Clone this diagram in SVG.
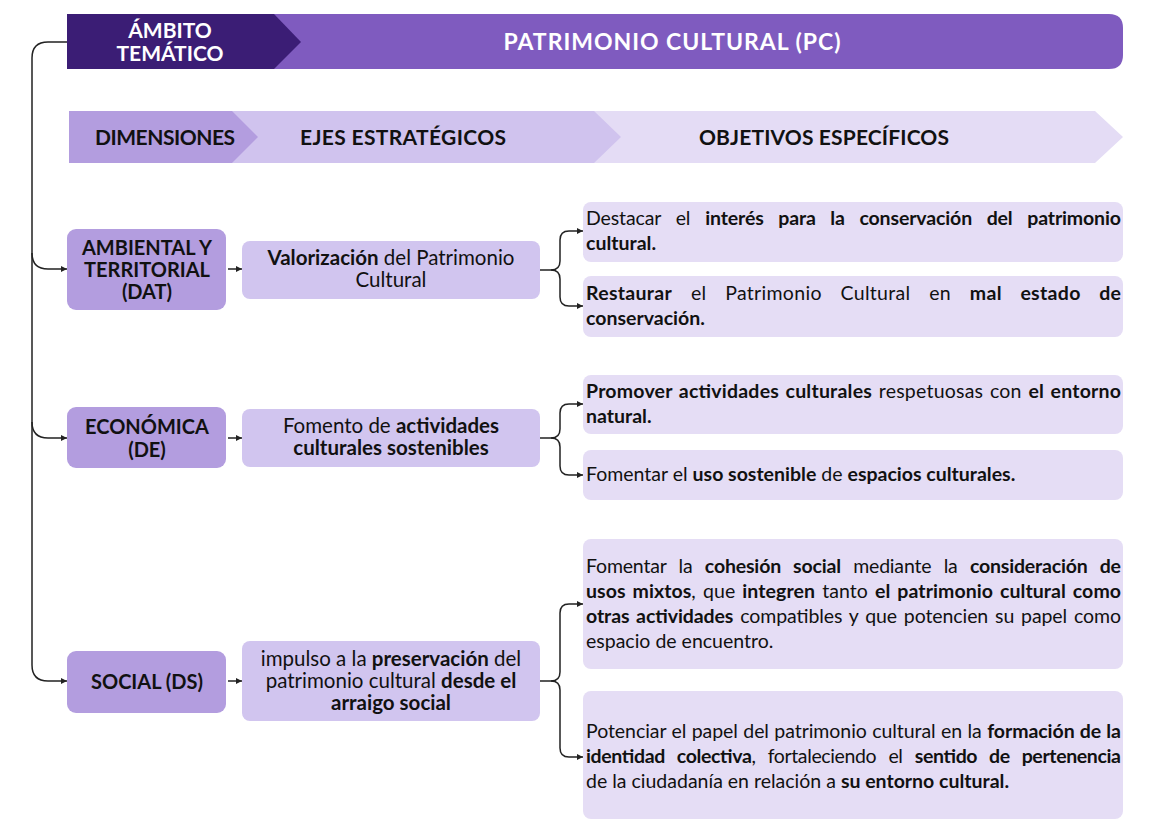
<svg xmlns="http://www.w3.org/2000/svg" width="1151" height="821" viewBox="0 0 1151 821">
<style>
text{font-family:Lato,"Open Sans","Liberation Sans",sans-serif;fill:#111;}
.b{font-weight:700;}
.hd{font-size:21px;font-weight:700;text-anchor:middle;}
.wt{fill:#fff;}
.dim{fill:#b39ddf;}
.eje{fill:#d1c5ef;}
.obj{fill:#e5ddf5;}
.dt{font-size:20px;font-weight:700;text-anchor:middle;}
.et{font-size:20.5px;text-anchor:middle;}
.ot{font-size:19.5px;}
.cn{fill:none;stroke:#222;stroke-width:1.5;}
</style>
<defs>
<marker id="ah" viewBox="0 0 6 6" refX="6" refY="3" markerWidth="6" markerHeight="6" markerUnits="userSpaceOnUse" orient="auto">
<path d="M0,0 L6,3 L0,6 z" fill="#222"/>
</marker>
</defs>

<g id="title">
<path d="M67,14 H1109 Q1123,14 1123,28 V55 Q1123,69 1109,69 H67 Z" fill="#7f5bbf"/>
<polygon points="67,14 274,14 301,42 274,69 67,69" fill="#3b1d75"/>
<text class="hd wt" x="170" y="38" font-size="20">ÁMBITO</text>
<text class="hd wt" x="170" y="61" font-size="20">TEMÁTICO</text>
<text class="wt" x="672" y="50" font-size="23" font-weight="700" text-anchor="middle" textLength="337" lengthAdjust="spacing">PATRIMONIO CULTURAL (PC)</text>
</g>

<g id="header">
<polygon points="69,111 1095,111 1123,137 1095,163 69,163" fill="#e4dcf5"/>
<polygon points="69,111 594,111 621,137 594,163 69,163" fill="#d0c3ee"/>
<polygon points="69,111 232,111 258,137 232,163 69,163" fill="#b39ddf"/>
<text class="hd" x="165" y="145" textLength="140" lengthAdjust="spacing">DIMENSIONES</text>
<text class="hd" x="403" y="145" textLength="206" lengthAdjust="spacing">EJES ESTRATÉGICOS</text>
<text class="hd" x="824" y="145" textLength="250" lengthAdjust="spacing">OBJETIVOS ESPECÍFICOS</text>
</g>

<g id="connectors">
<path class="cn" marker-end="url(#ah)" d="M67,42 H48 Q32,42 32,58 V665 Q32,681 48,681 H67"/>
<path class="cn" marker-end="url(#ah)" d="M32,253 Q32,269 48,269 H67"/>
<path class="cn" marker-end="url(#ah)" d="M32,422 Q32,438 48,438 H67"/>
<path class="cn" marker-end="url(#ah)" d="M228,269 H242"/>
<path class="cn" marker-end="url(#ah)" d="M228,438 H242"/>
<path class="cn" marker-end="url(#ah)" d="M228,681 H242"/>
<path class="cn" marker-end="url(#ah)" d="M540,270 H551 Q560,270 560,261 V240 Q560,231 569,231 H583"/>
<path class="cn" marker-end="url(#ah)" d="M551,270 Q560,270 560,279 V297 Q560,306 569,306 H583"/>
<path class="cn" marker-end="url(#ah)" d="M540,438 H551 Q560,438 560,429 V413 Q560,404 569,404 H583"/>
<path class="cn" marker-end="url(#ah)" d="M551,438 Q560,438 560,447 V466 Q560,475 569,475 H583"/>
<path class="cn" marker-end="url(#ah)" d="M540,681 H551 Q560,681 560,672 V613 Q560,604 569,604 H583"/>
<path class="cn" marker-end="url(#ah)" d="M551,681 Q560,681 560,690 V748 Q560,757 569,757 H583"/>
</g>

<g id="dim-dat">
<rect class="dim" x="67" y="229" width="159" height="81" rx="9"/>
<text class="dt" x="147" y="255">AMBIENTAL Y</text>
<text class="dt" x="147" y="277">TERRITORIAL</text>
<text class="dt" x="147" y="299">(DAT)</text>
</g>
<g id="dim-de">
<rect class="dim" x="67" y="407" width="159" height="61" rx="9"/>
<text class="dt" x="147" y="434">ECONÓMICA</text>
<text class="dt" x="147" y="457">(DE)</text>
</g>
<g id="dim-ds">
<rect class="dim" x="67" y="651" width="159" height="62" rx="9"/>
<text class="dt" x="147" y="689">SOCIAL (DS)</text>
</g>

<g id="eje-dat">
<rect class="eje" x="242" y="241" width="298" height="58" rx="8"/>
<text class="et" x="391" y="265"><tspan class="b">Valorización</tspan> del Patrimonio</text>
<text class="et" x="391" y="287">Cultural</text>
</g>
<g id="eje-de">
<rect class="eje" x="242" y="409" width="298" height="58" rx="8"/>
<text class="et" x="391" y="433">Fomento de <tspan class="b">actividades</tspan></text>
<text class="et" x="391" y="455" font-weight="700">culturales sostenibles</text>
</g>
<g id="eje-ds">
<rect class="eje" x="242" y="641" width="298" height="80" rx="8"/>
<text class="et" x="391" y="666">impulso a la <tspan class="b">preservación</tspan> del</text>
<text class="et" x="391" y="688">patrimonio cultural <tspan class="b">desde el</tspan></text>
<text class="et" x="391" y="710" font-weight="700">arraigo social</text>
</g>

<g id="obj-1">
<rect class="obj" x="583" y="202" width="540" height="60" rx="8"/>
<text class="ot" x="586" y="225" textLength="535" lengthAdjust="spacing" word-spacing="10">Destacar el <tspan class="b">interés para la conservación del patrimonio</tspan></text>
<text class="ot b" x="586" y="250">cultural.</text>
</g>
<g id="obj-2">
<rect class="obj" x="583" y="276" width="540" height="61" rx="8"/>
<text class="ot" x="586" y="300" textLength="535" lengthAdjust="spacing" word-spacing="13.5"><tspan class="b">Restaurar</tspan> el Patrimonio Cultural en <tspan class="b">mal estado de</tspan></text>
<text class="ot b" x="586" y="325">conservación.</text>
</g>
<g id="obj-3">
<rect class="obj" x="583" y="375" width="540" height="59" rx="8"/>
<text class="ot" x="586" y="398" textLength="535" lengthAdjust="spacing" word-spacing="1.5"><tspan class="b">Promover actividades culturales</tspan> respetuosas con <tspan class="b">el entorno</tspan></text>
<text class="ot b" x="586" y="423">natural.</text>
</g>
<g id="obj-4">
<rect class="obj" x="583" y="450" width="540" height="50" rx="8"/>
<text class="ot" x="586" y="481">Fomentar el <tspan class="b">uso sostenible</tspan> de <tspan class="b">espacios culturales.</tspan></text>
</g>
<g id="obj-5">
<rect class="obj" x="583" y="539" width="540" height="130" rx="8"/>
<text class="ot" x="586" y="573" textLength="535" lengthAdjust="spacing" word-spacing="7.5">Fomentar la <tspan class="b">cohesión social</tspan> mediante la <tspan class="b">consideración de</tspan></text>
<text class="ot" x="586" y="598" textLength="535" lengthAdjust="spacing" word-spacing="2"><tspan class="b">usos mixtos</tspan>, que <tspan class="b">integren</tspan> tanto <tspan class="b">el patrimonio cultural como</tspan></text>
<text class="ot" x="586" y="623" textLength="535" lengthAdjust="spacing" word-spacing="2"><tspan class="b">otras actividades</tspan> compatibles y que potencien su papel como</text>
<text class="ot" x="586" y="648">espacio de encuentro.</text>
</g>
<g id="obj-6">
<rect class="obj" x="583" y="691" width="540" height="128" rx="8"/>
<text class="ot" x="586" y="738" textLength="535" lengthAdjust="spacing" word-spacing="0.5">Potenciar el papel del patrimonio cultural en la <tspan class="b">formación de la</tspan></text>
<text class="ot" x="586" y="763" textLength="535" lengthAdjust="spacing" word-spacing="7.5"><tspan class="b">identidad colectiva</tspan>, fortaleciendo el <tspan class="b">sentido de pertenencia</tspan></text>
<text class="ot" x="586" y="788">de la ciudadanía en relación a <tspan class="b">su entorno cultural.</tspan></text>
</g>
</svg>
